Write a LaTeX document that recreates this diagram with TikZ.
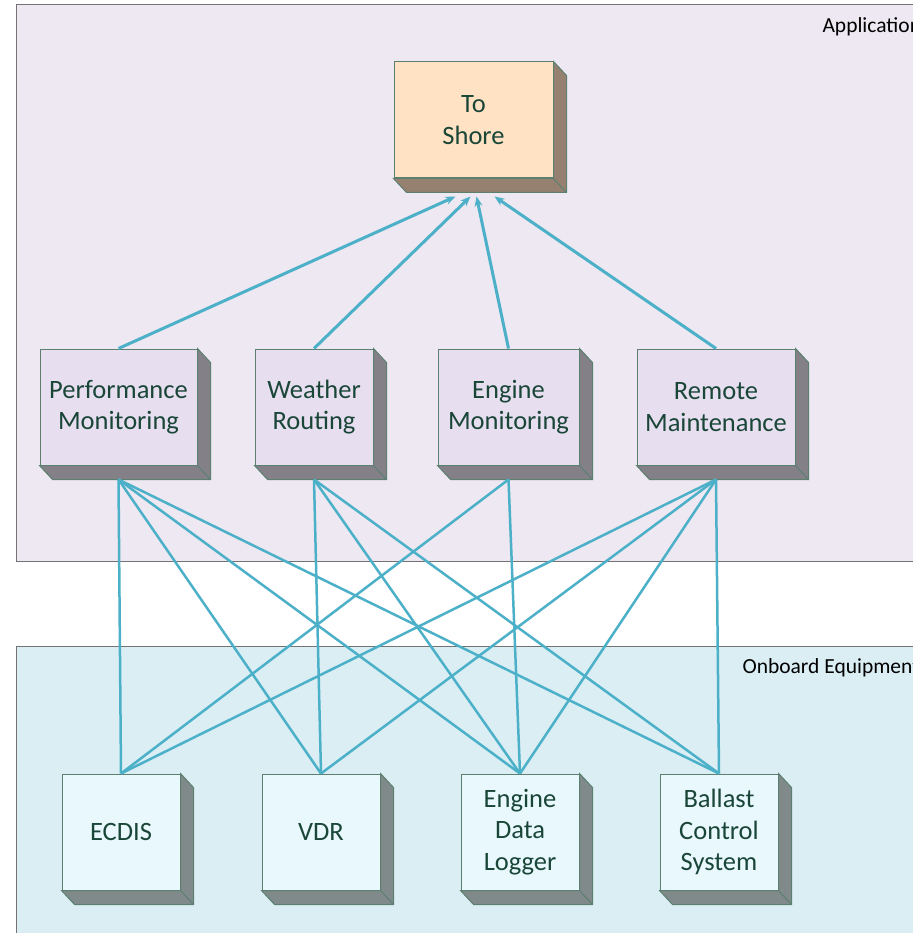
\documentclass[tikz,border=0pt]{standalone}
\usepackage{fontspec}
\setmainfont{Carlito}
\usetikzlibrary{arrows.meta,calc}

\definecolor{linkblue}{RGB}{76,176,200}
\definecolor{edgegreen}{RGB}{92,128,112}
\definecolor{textgreen}{RGB}{26,70,56}
\definecolor{appfill}{RGB}{237,232,241}
\definecolor{boardfill}{RGB}{218,238,244}
\definecolor{appbox}{RGB}{231,222,240}
\definecolor{appside}{RGB}{132,128,136}
\definecolor{shorebox}{RGB}{255,226,196}
\definecolor{shoreside}{RGB}{150,128,111}
\definecolor{devbox}{RGB}{232,248,253}
\definecolor{devside}{RGB}{128,138,138}

\tikzset{
  unit/.style={draw=edgegreen, line width=1pt, inner sep=0pt, minimum height=116pt,
    align=center, text=textgreen, font=\fontsize{26.5}{31.5}\selectfont},
  app/.style={unit, fill=appbox},
  shore/.style={unit, fill=shorebox},
  dev/.style={unit, fill=devbox, minimum width=118pt},
  link/.style={draw=linkblue, line width=2.5pt},
  uplink/.style={link, line width=3pt, -{Stealth[length=10pt,width=8pt]}},
  frame/.style={draw=black!55, line width=1pt},
  tag/.style={anchor=base west, font=\fontsize{21.5}{24}\selectfont}
}

\begin{document}
\begin{tikzpicture}[x=1pt,y=-1pt]
\useasboundingbox (0,0) rectangle (912,933);
% frames
\draw[frame,fill=appfill] (16,5) rectangle (940,561);
\draw[frame,fill=boardfill] (16,646) rectangle (940,960);
\node[tag] (applbl) at (819,33) {Application};
\node[tag] (boardlbl) at (739,673) {Onboard Equipment};

% boxes
\node[shore, minimum width=159pt] (toshore) at (473.5,120) {To\\Shore};
\node[app, minimum width=157pt] (perf) at (118.5,407) {Performance\\Monitoring};
\node[app, minimum width=118pt] (wr) at (314,407) {Weather\\Routing};
\node[app, minimum width=141pt] (em) at (508.5,407) {Engine\\Monitoring};
\node[app, minimum width=158pt] (rm) at (716,407) {Remote\\Maintenance};
\node[dev] (ecdis) at (121,832) {ECDIS};
\node[dev] (vdr) at (321,832) {VDR};
\node[dev] (edl) at (520,832) {Engine\\Data\\Logger};
\node[dev] (ballast) at (719,832) {Ballast\\Control\\System};

% depth of the boxes
\foreach \n/\s in {toshore/shoreside, perf/appside, wr/appside, em/appside, rm/appside,
  ecdis/devside, vdr/devside, edl/devside, ballast/devside} {
  \filldraw[draw=edgegreen, line width=1pt, fill=\s] (\n.north east) -- ++(13,14)
    |- ($(\n.south west)+(13,14)$) -- (\n.south west) -- (\n.south east) -- cycle;
  \draw[edgegreen, line width=1pt] (\n.south east) -- ++(13,14);
  \coordinate (\n-b) at ($(\n.south)+(0,14)$);
}

% into To Shore
\coordinate (in1) at ($(toshore.south)+(-18,18)$);
\coordinate (in2) at ($(toshore.south)+(-3,18)$);
\coordinate (in3) at ($(toshore.south)+(3,18)$);
\coordinate (in4) at ($(toshore.south)+(21,18)$);
\draw[uplink] (perf.north) -- (in1);
\draw[uplink] (wr.north) -- (in2);
\draw[uplink] (em.north) -- (in3);
\draw[uplink] (rm.north) -- (in4);

% equipment to applications
\foreach \a/\b in {perf/ecdis, perf/vdr, perf/edl, perf/ballast,
  wr/vdr, wr/edl, wr/ballast, em/ecdis, em/edl,
  rm/ecdis, rm/vdr, rm/edl, rm/ballast}
  \draw[link] (\a-b) -- (\b.north);
\end{tikzpicture}
\end{document}
